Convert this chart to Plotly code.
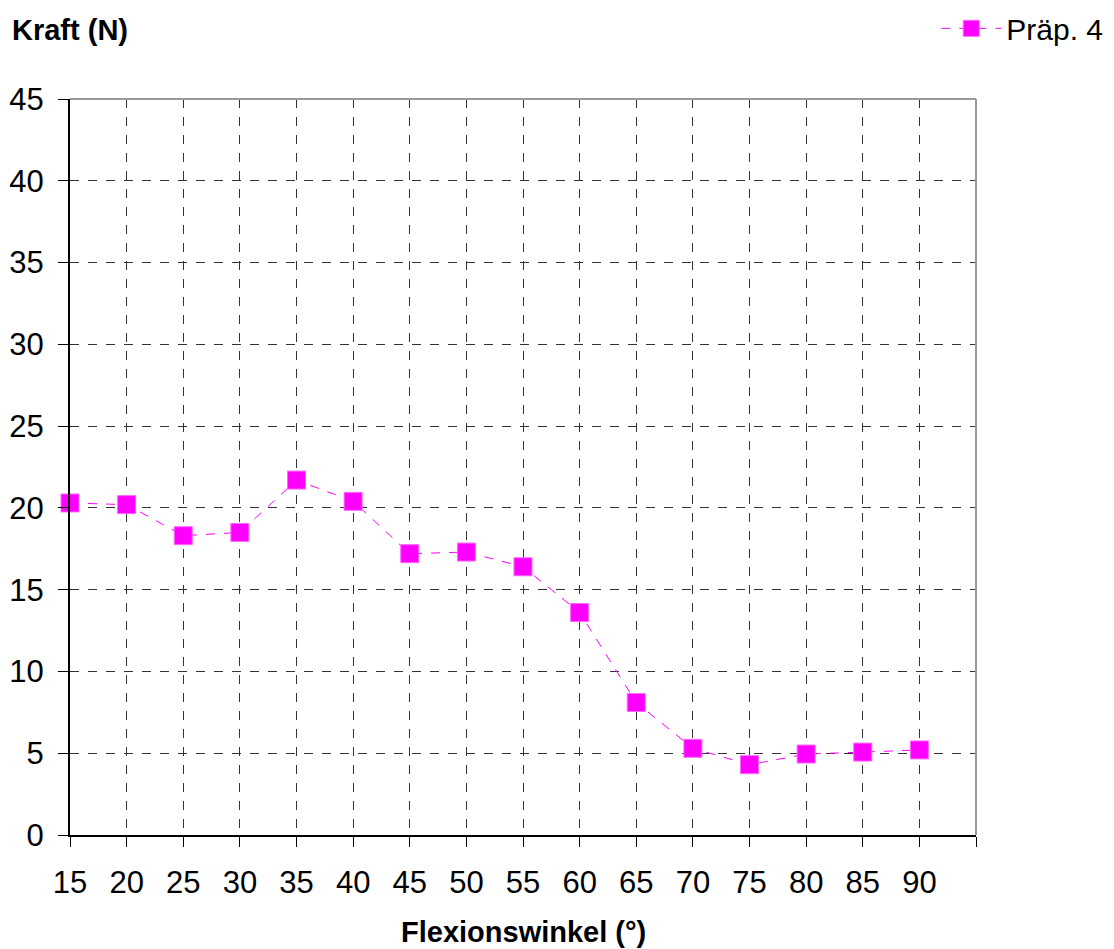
import plotly.graph_objects as go

angles = [15, 20, 25, 30, 35, 40, 45, 50, 55, 60, 65, 70, 75, 80, 85, 90]
force = [20.3, 20.2, 18.3, 18.5, 21.7, 20.4, 17.2, 17.3, 16.4, 13.6, 8.1, 5.3, 4.3, 4.95, 5.07, 5.2]
series_name = "Präp. 4"
x_ticks = [15, 20, 25, 30, 35, 40, 45, 50, 55, 60, 65, 70, 75, 80, 85, 90, 95]
x_ticktext = [str(v) for v in x_ticks[:-1]] + [""]
y_ticks = [0, 5, 10, 15, 20, 25, 30, 35, 40, 45]

FONT = "Liberation Sans, Arial, sans-serif"

fig = go.Figure()
fig.add_trace(go.Scatter(
    x=angles, y=force, name=series_name, mode="lines+markers",
    line=dict(color="#FF00FF", width=1, dash="dash"),
    marker=dict(symbol="square", size=18, color="#FF00FF",
                line=dict(color="#FF66FF", width=1)),
    cliponaxis=False,
))

fig.update_layout(
    width=1114, height=949,
    margin=dict(l=70, r=138, t=99, b=114, autoexpand=False),
    paper_bgcolor="white", plot_bgcolor="white",
    font=dict(family=FONT, color="black", size=31),
    showlegend=True,
    legend=dict(x=1.146, y=1.096, xanchor="right", yanchor="middle",
                font=dict(size=30), bgcolor="rgba(0,0,0,0)", itemwidth=60),
    xaxis=dict(range=[15, 95], tickvals=x_ticks, ticktext=x_ticktext,
               showgrid=True, gridcolor="#333333", griddash="dash", gridwidth=1,
               showline=True, linecolor="black", linewidth=2,
               ticks="outside", ticklen=10, tickcolor="black", tickwidth=1,
               ticklabelstandoff=9, zeroline=False, automargin=False,
               tickfont=dict(size=31)),
    yaxis=dict(range=[0, 45], tickvals=y_ticks,
               showgrid=True, gridcolor="#333333", griddash="dash", gridwidth=1,
               showline=True, linecolor="black", linewidth=2,
               ticks="outside", ticklen=10, tickcolor="black", tickwidth=1,
               ticklabelstandoff=8, zeroline=False, automargin=False,
               tickfont=dict(size=31)),
)

# gray frame on top and right
fig.add_shape(type="line", xref="paper", yref="paper", x0=0, x1=1, y0=1, y1=1,
              line=dict(color="#999999", width=2))
fig.add_shape(type="line", xref="paper", yref="paper", x0=1, x1=1, y0=0, y1=1,
              line=dict(color="#999999", width=2))

fig.add_annotation(text="<b>Kraft (N)</b>", xref="paper", yref="paper",
                   x=-0.066, y=1.094, xanchor="left", yanchor="middle",
                   showarrow=False, font=dict(size=29))
fig.add_annotation(text="<b>Flexionswinkel (°)</b>", xref="paper", yref="paper",
                   x=0.5, y=-0.132, xanchor="center", yanchor="middle",
                   showarrow=False, font=dict(size=29))

fig.write_html("out.html")
